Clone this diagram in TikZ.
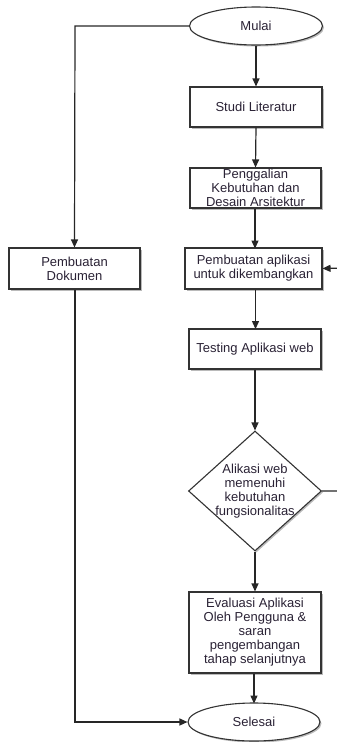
\documentclass[tikz,border=0pt]{standalone}
\usepackage{fontspec}
\setmainfont{Liberation Sans}
\usetikzlibrary{shapes.geometric,arrows.meta,shadows}
\definecolor{txt}{HTML}{2A2235}
\begin{document}
\begin{tikzpicture}[x=1pt,y=-1pt,
  every node/.style={font=\fontsize{13}{14}\selectfont, text=txt, align=center, inner sep=0pt},
  shad/.style={drop shadow={shadow xshift=1.5pt,shadow yshift=-1.5pt,fill=black!45,opacity=0.6}},
  procbox/.style={draw=black!80, line width=1.1pt, fill=white, shad, minimum height=40pt},
  term/.style={ellipse, draw=black!80, line width=1.1pt, fill=white, shad, minimum width=133pt, minimum height=38pt},
  dec/.style={diamond, draw=black!80, line width=1.1pt, fill=white, shad, minimum width=133pt, minimum height=120pt, aspect=1.1},
  conn/.style={draw=black!85, line width=1.2pt, -{Triangle[length=8pt,width=7pt]}},
  plain/.style={draw=black!85, line width=1.2pt}]
\useasboundingbox (0,0) rectangle (337,742);
\clip (0,0) rectangle (337,742);
\node[term] (mulai) at (256,26) {Mulai};
\node[procbox, minimum width=132pt] (studi) at (256,107) {Studi Literatur};
\node[procbox, minimum width=131pt] (gali) at (255.5,188) {Penggalian\\Kebutuhan dan\\Desain Arsitektur};
\node[procbox, minimum width=137pt, minimum height=41pt] (aplikasi) at (253.5,268.5) {Pembuatan aplikasi\\untuk dikembangkan};
\node[procbox, minimum width=131pt, minimum height=41pt] (dok) at (74.5,268.5) {Pembuatan\\Dokumen};
\node[procbox, minimum width=132pt] (test) at (255,349) {Testing Aplikasi web};
\node[dec] (cek) at (255,491) {};
\node at (255,491) {Alikasi web\\memenuhi\\kebutuhan\\fungsionalitas};
\node[procbox, minimum width=132pt, minimum height=81pt] (eval) at (255,632.5) {Evaluasi Aplikasi\\Oleh Pengguna \&\\saran\\pengembangan\\tahap selanjutnya};
\node[term, minimum width=132pt] (selesai) at (254,722) {Selesai};
\coordinate (c1) at (75,26);
\coordinate (c2) at (75,722);
\coordinate (r1) at (345,491);
\coordinate (r2) at (345,268);
\draw[conn] (mulai.west) -- (c1) -- (dok.north);
\draw[conn] (mulai.south) -- (studi.north);
\draw[conn] (studi.south) -- (gali.north);
\draw[conn] (gali.south -| aplikasi) ++(1.5,0) -- ++(0,40);
\draw[conn] (aplikasi.south) ++(2,0) -- ++(0,39.5);
\draw[conn] (test.south) -- (cek.north);
\draw[conn] (cek.south) -- (eval.north);
\draw[conn] (eval.south) ++(-1,0) -- ++(0,30);
\draw[conn] (dok.south -| c2) -- (c2) -- (selesai.west);
\draw[conn] (cek.east) -- (r1) -- (r2) -- (aplikasi.east);
\end{tikzpicture}
\end{document}
